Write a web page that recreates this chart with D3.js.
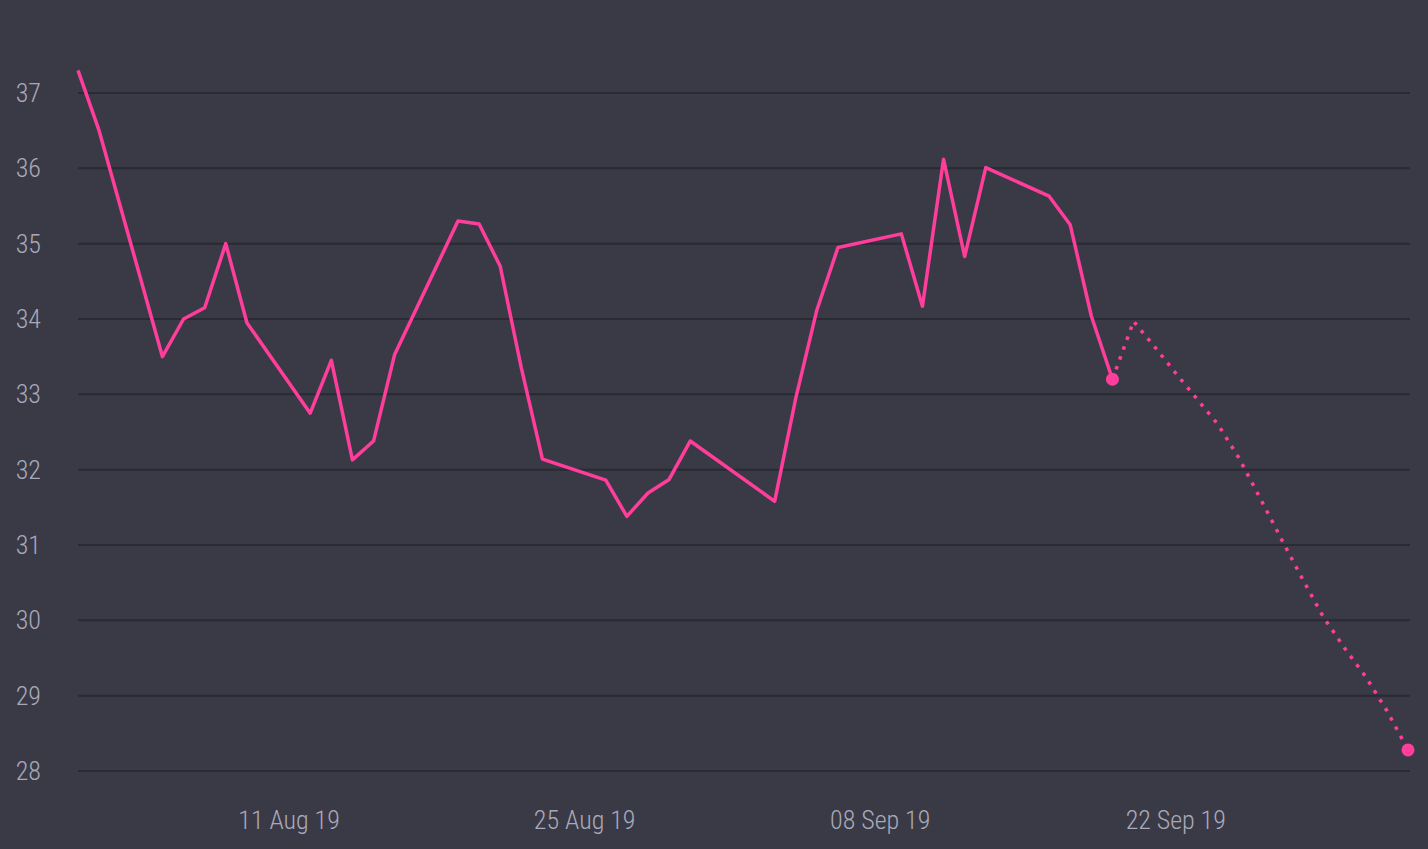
<!DOCTYPE html>
<html>
<head>
  <meta charset="utf-8">
  <title>Line with forecast</title>
  <style>
    html, body {margin: 0; padding: 0; background: #3a3a46;}
    svg {display: block; font-family: "Roboto Condensed", "Liberation Sans Narrow", "DejaVu Sans Condensed", Roboto, sans-serif;}
    .grid line {stroke: #2a2a33; stroke-width: 2;}
    .lbl {fill: #a9a9ba; font-size: 26px; font-weight: 300;}
  </style>
</head>
<body>
  <script src="https://d3js.org/d3.v7.min.js"></script>
  <svg width="1428" height="849"></svg>
  <script>
    // observed closes (trading days)
    var dates = ["2019-08-01","2019-08-02","2019-08-05","2019-08-06","2019-08-07","2019-08-08","2019-08-09",
                 "2019-08-12","2019-08-13","2019-08-14","2019-08-15","2019-08-16",
                 "2019-08-19","2019-08-20","2019-08-21","2019-08-22","2019-08-23",
                 "2019-08-26","2019-08-27","2019-08-28","2019-08-29","2019-08-30",
                 "2019-09-03","2019-09-04","2019-09-05","2019-09-06",
                 "2019-09-09","2019-09-10","2019-09-11","2019-09-12","2019-09-13",
                 "2019-09-16","2019-09-17","2019-09-18","2019-09-19"];
    var values = [37.3, 36.5, 33.5, 34.0, 34.15, 35.0, 33.95,
                  32.75, 33.45, 32.13, 32.38, 33.53,
                  35.3, 35.26, 34.7, 33.35, 32.14,
                  31.86, 31.38, 31.69, 31.87, 32.38,
                  31.58, 32.95, 34.12, 34.95,
                  35.13, 34.17, 36.12, 34.83, 36.01,
                  35.63, 35.25, 34.04, 33.2];

    // forecast (dotted)
    var fcDates = ["2019-09-19","2019-09-20","2019-09-21","2019-09-22","2019-09-23","2019-09-24","2019-09-25",
                   "2019-09-26","2019-09-27","2019-09-28","2019-09-29","2019-09-30",
                   "2019-10-01","2019-10-02","2019-10-03"];
    var fcValues = [33.2, 33.97, 33.63, 33.28, 32.94, 32.6, 32.15,
                    31.62, 31.08, 30.55, 30.04, 29.63,
                    29.25, 28.8, 28.28];

    var yTicks = [28, 29, 30, 31, 32, 33, 34, 35, 36, 37];
    var xTicks = ["2019-08-11","2019-08-25","2019-09-08","2019-09-22"];

    var parse = d3.timeParse("%Y-%m-%d");
    var fmt = d3.timeFormat("%d %b %y");
    var pink = "#ff3d9a";

    var svg = d3.select("svg");
    var mLeft = 78, mRight = 1408, mTop = 93, mBottom = 771;

    var x = d3.scaleTime()
      .domain([parse("2019-08-01"), parse("2019-10-03")])
      .range([mLeft, mRight]);
    var y = d3.scaleLinear().domain([28, 37]).range([mBottom, mTop]);

    // gridlines
    svg.append("g").attr("class", "grid")
      .selectAll("line").data(yTicks).join("line")
      .attr("x1", mLeft).attr("x2", 1410)
      .attr("y1", d => y(d)).attr("y2", d => y(d));

    // y labels
    svg.append("g").selectAll("text").data(yTicks).join("text")
      .attr("class", "lbl")
      .attr("x", 41).attr("y", d => y(d))
      .attr("text-anchor", "end")
      .attr("dominant-baseline", "central")
      .text(d => d);

    // x labels
    svg.append("g").selectAll("text").data(xTicks.map(parse)).join("text")
      .attr("class", "lbl")
      .attr("x", d => x(d)).attr("y", 820)
      .attr("text-anchor", "middle")
      .attr("dominant-baseline", "central")
      .text(fmt);

    var obs = dates.map((d, i) => ({date: parse(d), v: values[i]}));
    var fc = fcDates.map((d, i) => ({date: parse(d), v: fcValues[i]}));

    var line = d3.line().x(d => x(d.date)).y(d => y(d.v));

    svg.append("clipPath").attr("id", "clip")
      .append("rect").attr("x", 0).attr("y", 68).attr("width", 1428).attr("height", 781);

    svg.append("path")
      .datum(fc)
      .attr("d", line)
      .attr("fill", "none")
      .attr("stroke", pink)
      .attr("stroke-width", 3.5)
      .attr("stroke-dasharray", "3.5,7");

    svg.append("path")
      .datum(obs)
      .attr("clip-path", "url(#clip)")
      .attr("d", line)
      .attr("fill", "none")
      .attr("stroke", pink)
      .attr("stroke-width", 3.5)
      .attr("stroke-linejoin", "round");

    // end markers
    svg.append("g").selectAll("circle")
      .data([obs[obs.length - 1], fc[fc.length - 1]]).join("circle")
      .attr("cx", d => x(d.date)).attr("cy", d => y(d.v))
      .attr("r", 6.5)
      .attr("fill", pink);
  </script>
</body>
</html>
